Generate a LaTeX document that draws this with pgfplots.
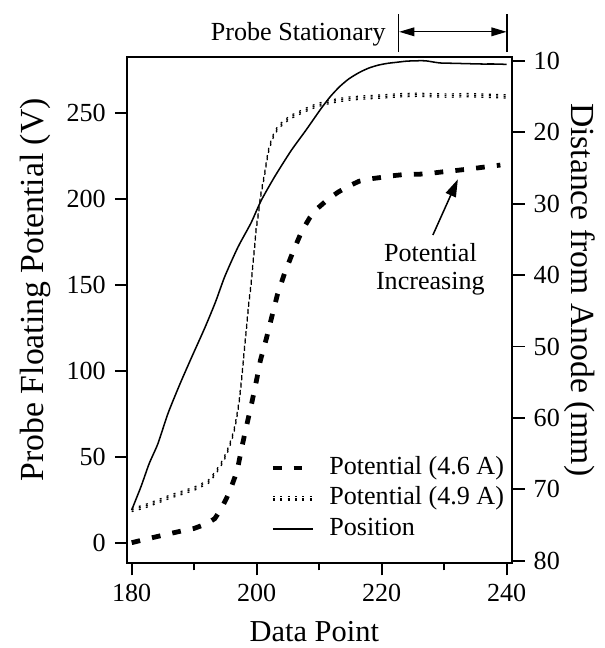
\documentclass[12pt,border=0pt]{standalone}
\usepackage{fontspec}
\setmainfont{Liberation Serif}
\usepackage{pgfplots}
\pgfplotsset{compat=1.18}
\usetikzlibrary{arrows.meta}

% 4.6 A floating potential (V)
\pgfplotstableread{
x y
180 0
182 1.8
184 3.5
186 5.2
188 6.8
190 8.3
192 11
193.3 14
194.3 19.5
195.2 26
195.9 32
196.5 38
197.0 44
197.6 55
198.2 65
198.7 73
199.2 81
199.9 93
200.6 106
201.5 118
202.4 131
203.3 144
204.5 157
205.8 169
207.2 181
208.5 189
209.8 194.6
211.5 200
213.1 204
214.8 207.5
216.4 210.2
218 211.5
219.9 212.4
221.5 213.3
223.3 214
225 214.2
226.8 214.4
228.5 215.1
230.1 215.8
232 216.5
233.7 217.2
235.5 218
237.2 218.8
239 219.6
}\potA

% 4.9 A floating potential (V)
\pgfplotstableread{
x y
180 19
182 21
184.2 24
186.3 27
188.5 29.5
190.4 32
192.3 35.5
193.3 40
194.2 45
194.7 48
195.4 54
196 60
196.5 67
196.8 73
197.2 82
197.5 92
197.8 103
198.1 115
198.4 126
198.7 138
199.1 150
199.4 162
199.7 173
199.9 182
200.3 192
200.6 201
201.0 209
201.3 215
201.6 222
201.9 228
202.3 233
202.6 236
203.4 241.5
204.5 245
205.4 247.5
206.3 249
207.7 251.5
209.5 254.2
211 255.8
213 257.3
214.9 258.3
217.5 259
220.2 259.5
223 260.2
225.6 260.5
228 260.2
230.9 260
233.5 260.3
236.2 260
238 259.8
240 259.5
}\potB

% probe position (mm from anode)
\pgfplotstableread{
x y
180 72.9
181.5 69.6
182.8 66.4
184.2 63.6
185.8 59.4
187.7 55.3
189.6 51.5
191.7 47.4
193.4 43.8
194.9 40.2
197.0 36.1
199.1 32.7
200.7 29.6
202.9 26.2
205.5 22.6
207.9 19.7
210.3 16.7
211.8 15.0
213.3 13.6
214.8 12.5
216.5 11.6
218 11.0
219.5 10.6
221 10.35
222.5 10.2
224 10.05
225.6 10.0
227 10.0
229.3 10.3
231.5 10.35
233.6 10.4
236 10.45
238 10.45
240 10.5
}\posn

\pgfplotsset{
  frame/.style={
    scale only axis, width=177.3pt, height=233.1pt,
    at={(0pt,0pt)}, anchor=south west,
    xmin=179.25, xmax=240.93,
    /pgf/number format/assume math mode=true,
    tick align=outside,
    major tick length=5.6pt,
    minor tick length=3.2pt,
    axis line style={line width=0.9pt},
    every tick/.style={line width=0.9pt, black},
    xlabel style={font=\fontsize{14}{16}\selectfont},
    ylabel style={font=\fontsize{15.5}{17}\selectfont},
    clip=false,
  },
  thickdash/.style={black, line width=2.2pt, dash pattern=on 4pt off 5.6pt},
  ticked/.style={black, line width=0.55pt, dash pattern=on 0.9pt off 2.5pt,
    postaction={draw, transform canvas={yshift=0.75pt}},
    postaction={draw, transform canvas={yshift=-0.75pt}}},
  thinline/.style={black, line width=0.7pt, solid},
}

\begin{document}
\begin{tikzpicture}
\useasboundingbox (-58.42pt,-38.96pt) rectangle (219.88pt,259.12pt);

\begin{axis}[frame,
  ymin=-12, ymax=282.7,
  xtick pos=left, ytick pos=left,
  xtick={180,200,220,240}, minor xtick={190,210,230},
  ytick={0,50,...,250},
  xlabel={Data Point},
  ylabel={Probe Floating Potential (V)},
  xlabel style={at={(axis description cs:0.486,-0.1356)}, anchor=center},
  ylabel style={at={(axis description cs:-0.2387,0.54)}, anchor=center},
  legend image code/.code={\draw[#1] (0pt,0pt) -- (18.4pt,0pt);},
  legend cell align=left,
  legend style={draw=none, fill=none, inner sep=0pt, row sep=0pt, column sep=5.5pt,
    at={(axis description cs:0.371,0.219)}, anchor=north west,
    nodes={inner sep=1pt, text height=9pt, text depth=3pt}},
]
\addplot[thickdash] table {\potA};
\addlegendentry{Potential (4.6 A)}
\addplot[ticked] table {\potB};
\addlegendentry{Potential (4.9 A)}
\addlegendimage{thinline}
\addlegendentry{Position}

% annotation for the rising potential
\node[align=center, font=\fontsize{12}{12.9}\selectfont] at (axis cs:227.8,159.1) {Potential\\Increasing};
\draw[line width=0.7pt, -{Triangle[length=8pt,width=5pt]}] (axis cs:228.2,178.9) -- (axis cs:232.2,211.3);

% stationary interval marker above the frame
\node[anchor=base east, inner sep=0pt] at (axis cs:220.7,292.3) {Probe Stationary};
\draw[line width=0.8pt] (axis cs:222.7,285.3) -- (axis cs:222.7,307.4);
\draw[line width=0.8pt] (axis cs:240.1,285.3) -- (axis cs:240.1,307.4);
\draw[line width=0.6pt, {Triangle[length=7pt,width=4pt]}-{Triangle[length=7pt,width=4pt]}]
  (axis cs:222.8,297.1) -- (axis cs:240.0,297.1);
\end{axis}

\begin{axis}[frame,
  hide x axis,
  axis y line*=right,
  y dir=reverse,
  ymin=9.41, ymax=80.36,
  ytick={10,20,...,80},
  ylabel={Distance from Anode (mm)},
  ylabel style={at={(axis description cs:1.175,0.54)}, anchor=center, rotate=180},
]
\addplot[thinline, smooth, tension=0.4] table {\posn};
\end{axis}
\end{tikzpicture}
\end{document}
